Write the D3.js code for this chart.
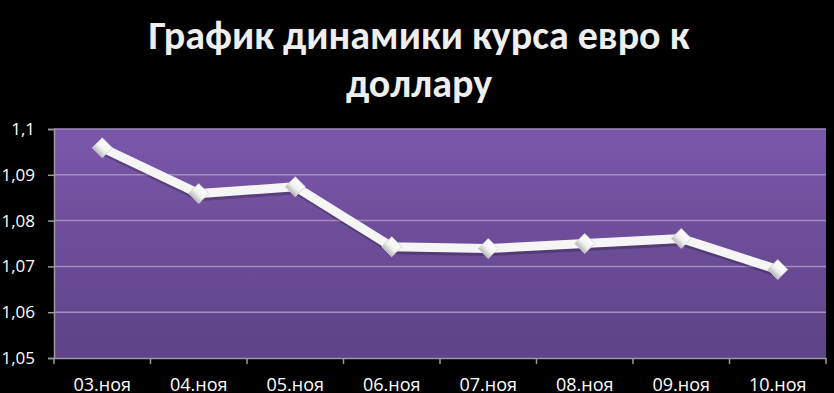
<!DOCTYPE html>
<html>
<head>
<meta charset="utf-8">
<script src="https://cdn.jsdelivr.net/npm/d3@7"></script>
<style>
  html, body { margin: 0; padding: 0; background: #000; overflow: hidden; }
  svg { display: block; }
  text { font-family: Carlito, Calibri, "Open Sans", sans-serif; }
  .tick text { font-family: "Open Sans", sans-serif; font-weight: 400; }
</style>
</head>
<body>
<script>
// chart data
const dates = ["03.ноя", "04.ноя", "05.ноя", "06.ноя", "07.ноя", "08.ноя", "09.ноя", "10.ноя"];
const rates = [1.0959, 1.0859, 1.0874, 1.0743, 1.0739, 1.0750, 1.0761, 1.0693];
const yTicks = [1.05, 1.06, 1.07, 1.08, 1.09, 1.1];
const titleLines = ["График динамики курса евро к", "доллару"];

const w = 834, h = 393;
const pLeft = 54, pRight = 826, pTop = 129, pBottom = 358;

const svg = d3.select("body").append("svg")
  .attr("width", w)
  .attr("height", h);

// gradient for plot area
const defs = svg.append("defs");
const grad = defs.append("linearGradient")
  .attr("id", "bg")
  .attr("x1", 0).attr("y1", 0).attr("x2", 0).attr("y2", 1);
grad.append("stop").attr("offset", "0%").attr("stop-color", "#7b57aa");
grad.append("stop").attr("offset", "100%").attr("stop-color", "#5d4387");

const mgrad = defs.append("linearGradient")
  .attr("id", "mk")
  .attr("x1", 0).attr("y1", 0).attr("x2", 0).attr("y2", 1);
mgrad.append("stop").attr("offset", "0%").attr("stop-color", "#ffffff");
mgrad.append("stop").attr("offset", "55%").attr("stop-color", "#f2f2f2");
mgrad.append("stop").attr("offset", "100%").attr("stop-color", "#b8b8b8");

const x = d3.scaleBand()
  .domain(dates)
  .range([pLeft, pRight]);

const y = d3.scaleLinear()
  .domain([1.05, 1.1])
  .range([pBottom, pTop]);

svg.append("rect")
  .attr("x", pLeft).attr("y", pTop)
  .attr("width", pRight - pLeft).attr("height", pBottom - pTop)
  .attr("fill", "url(#bg)");

// gridlines
svg.append("g")
  .selectAll("line")
  .data(yTicks.slice(1))
  .enter()
  .append("line")
  .attr("x1", pLeft).attr("x2", pRight)
  .attr("y1", d => y(d)).attr("y2", d => y(d))
  .attr("stroke", "#a28cc0")
  .attr("stroke-width", 1.5);

// y axis
const yAxis = d3.axisLeft(y)
  .tickValues(yTicks)
  .tickSize(6)
  .tickPadding(13)
  .tickFormat(d => d3.format(".2~f")(d).replace(".", ","));

const gy = svg.append("g")
  .attr("transform", "translate(" + pLeft + ",0)")
  .call(yAxis);
gy.select(".domain").attr("stroke", "#9a9a9a").attr("stroke-width", 1.5);
gy.selectAll(".tick line").attr("stroke", "#9a9a9a").attr("stroke-width", 1.5);
gy.selectAll(".tick text")
  .attr("fill", "#fff")
  .style("font-size", "17px");

// x axis
const xAxis = d3.axisBottom(x).tickSize(0).tickPadding(20);
const gx = svg.append("g")
  .attr("transform", "translate(0," + pBottom + ")")
  .call(xAxis);
gx.select(".domain").attr("stroke", "#9a9a9a").attr("stroke-width", 1.5);
gx.selectAll(".tick text")
  .attr("fill", "#fff")
  .style("font-size", "18px");

// boundary ticks between categories
const bounds = dates.map(d => x(d)).concat([pRight]);
svg.append("g")
  .selectAll("line")
  .data(bounds)
  .enter()
  .append("line")
  .attr("x1", d => d).attr("x2", d => d)
  .attr("y1", pBottom).attr("y2", pBottom + 6)
  .attr("stroke", "#9a9a9a")
  .attr("stroke-width", 1.5);

// line
const line = d3.line()
  .x((d, i) => x(dates[i]) + x.bandwidth() / 2)
  .y(d => y(d));

svg.append("path")
  .datum(rates)
  .attr("d", line)
  .attr("fill", "none")
  .attr("stroke", "rgba(0,0,0,0.22)")
  .attr("stroke-width", 9)
  .attr("transform", "translate(1,3)");

svg.append("path")
  .datum(rates)
  .attr("d", line)
  .attr("fill", "none")
  .attr("stroke", "#f5f5f5")
  .attr("stroke-width", 9)
  .attr("stroke-linejoin", "miter");

// markers
const diamond = d3.symbol().type(d3.symbolSquare).size(200);
svg.append("g")
  .selectAll("path")
  .data(rates)
  .enter()
  .append("path")
  .attr("d", diamond)
  .attr("transform", (d, i) => "translate(" + (x(dates[i]) + x.bandwidth() / 2) + "," + y(d) + ") rotate(45)")
  .attr("fill", "url(#mk)")
  .attr("stroke", "#cfcfcf")
  .attr("stroke-width", 0.8);

// title
svg.append("g")
  .selectAll("text")
  .data(titleLines)
  .enter()
  .append("text")
  .attr("x", w / 2 + 2)
  .attr("y", (d, i) => 49 + i * 48)
  .attr("text-anchor", "middle")
  .attr("fill", "#eeeeee")
  .style("font-size", "40px")
  .style("font-weight", "bold")
  .text(d => d);
</script>
</body>
</html>
